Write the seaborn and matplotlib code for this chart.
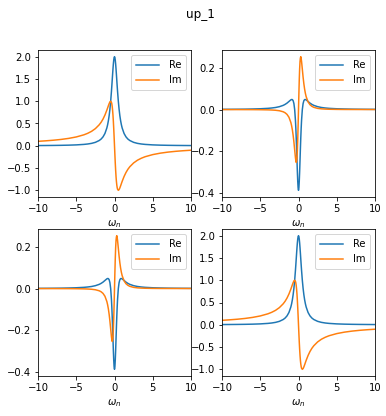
import matplotlib
matplotlib.use('Agg')
import matplotlib.pyplot as plt
import seaborn as sns
import pandas as pd

# frecuencias de Matsubara (eje x)
omega = [-10, -9, -8, -7, -6, -5, -4, -3.5, -3, -2.5, -2, -1.75, -1.5, -1.25,
         -1, -0.9, -0.8, -0.7, -0.6, -0.5, -0.4, -0.35, -0.3, -0.25, -0.2, -0.15,
         -0.1, -0.05, 0, 0.05, 0.1, 0.15, 0.2, 0.25, 0.3, 0.35, 0.4, 0.5, 0.6,
         0.7, 0.8, 0.9, 1, 1.25, 1.5, 1.75, 2, 2.5, 3, 3.5, 4, 5, 6, 7, 8, 9, 10]

# panel tipo A (arriba izquierda / abajo derecha)
re_a = [0.005, 0.0062, 0.0078, 0.0102, 0.0138, 0.0198, 0.0308, 0.04, 0.054,
        0.077, 0.118, 0.151, 0.2, 0.276, 0.4, 0.472, 0.562, 0.676, 0.82, 1.0,
        1.22, 1.342, 1.471, 1.6, 1.724, 1.835, 1.923, 1.98, 2.0, 1.98, 1.923,
        1.835, 1.724, 1.6, 1.471, 1.342, 1.22, 1.0, 0.82, 0.676, 0.562, 0.472,
        0.4, 0.276, 0.2, 0.151, 0.118, 0.077, 0.054, 0.04, 0.0308, 0.0198,
        0.0138, 0.0102, 0.0078, 0.0062, 0.005]
im_a = [0.0998, 0.111, 0.1245, 0.142, 0.1655, 0.198, 0.246, 0.28, 0.324,
        0.385, 0.471, 0.528, 0.6, 0.69, 0.8, 0.849, 0.899, 0.946, 0.984, 1.0,
        0.976, 0.94, 0.882, 0.8, 0.69, 0.55, 0.385, 0.198, 0.0, -0.198, -0.385,
        -0.55, -0.69, -0.8, -0.882, -0.94, -0.976, -1.0, -0.984, -0.946,
        -0.899, -0.849, -0.8, -0.69, -0.6, -0.528, -0.471, -0.385, -0.324,
        -0.28, -0.246, -0.198, -0.1655, -0.142, -0.1245, -0.111, -0.0998]

# panel tipo B (arriba derecha / abajo izquierda)
re_b = [0.001, 0.0012, 0.0015, 0.0019, 0.0027, 0.0038, 0.0058, 0.0075, 0.0099,
        0.0138, 0.0201, 0.0249, 0.031, 0.0388, 0.0466, 0.0483, 0.0478, 0.0425,
        0.0287, 0.0, -0.0519, -0.089, -0.134, -0.186, -0.242, -0.297, -0.344,
        -0.377, -0.388, -0.377, -0.344, -0.297, -0.242, -0.186, -0.134, -0.089,
        -0.0519, 0.0, 0.0287, 0.0425, 0.0478, 0.0483, 0.0466, 0.0388, 0.031,
        0.0249, 0.0201, 0.0138, 0.0099, 0.0075, 0.0058, 0.0038, 0.0027, 0.0019,
        0.0015, 0.0012, 0.001]
im_b = [-0.0001, -0.00015, -0.0002, -0.0003, -0.0004, -0.00076, -0.00147,
        -0.0022, -0.0034, -0.0057, -0.0107, -0.0155, -0.0233, -0.0369, -0.0621,
        -0.0777, -0.098, -0.124, -0.156, -0.194, -0.231, -0.245, -0.254, -0.248,
        -0.231, -0.196, -0.143, -0.076, 0.0, 0.076, 0.143, 0.196, 0.231, 0.248,
        0.254, 0.245, 0.231, 0.194, 0.156, 0.124, 0.098, 0.0777, 0.0621, 0.0369,
        0.0233, 0.0155, 0.0107, 0.0057, 0.0034, 0.0022, 0.00147, 0.00076,
        0.0004, 0.0003, 0.0002, 0.00015, 0.0001]

df = pd.DataFrame({'omega': omega, 're_a': re_a, 'im_a': im_a,
                   're_b': re_b, 'im_b': im_b})

W, H = 386, 416
fig = plt.figure(figsize=(W / 72, H / 72), dpi=72)

# posiciones de los ejes en pixeles (izquierda, arriba)
posiciones = [(38, 50, 'a'), (222, 50, 'b'), (38, 229, 'b'), (222, 229, 'a')]
ancho, alto = 153, 147

for x0, y0, tipo in posiciones:
    ax = fig.add_axes([x0 / W, 1 - (y0 + alto) / H, ancho / W, alto / H])
    sns.lineplot(data=df, x='omega', y='re_' + tipo, ax=ax, label='Re',
                 color='tab:blue', linewidth=1.5)
    sns.lineplot(data=df, x='omega', y='im_' + tipo, ax=ax, label='Im',
                 color='tab:orange', linewidth=1.5)
    ax.set_xlim(-10, 10)
    ax.set_xlabel(r'$\omega_n$')
    ax.set_ylabel('')
    ax.legend(loc='upper right', handlelength=2.3, handletextpad=1.0,
              borderpad=0.5)

fig.suptitle('up_1', x=200 / W, y=0.981, fontsize=12)
fig.savefig('out.png', dpi=72)
